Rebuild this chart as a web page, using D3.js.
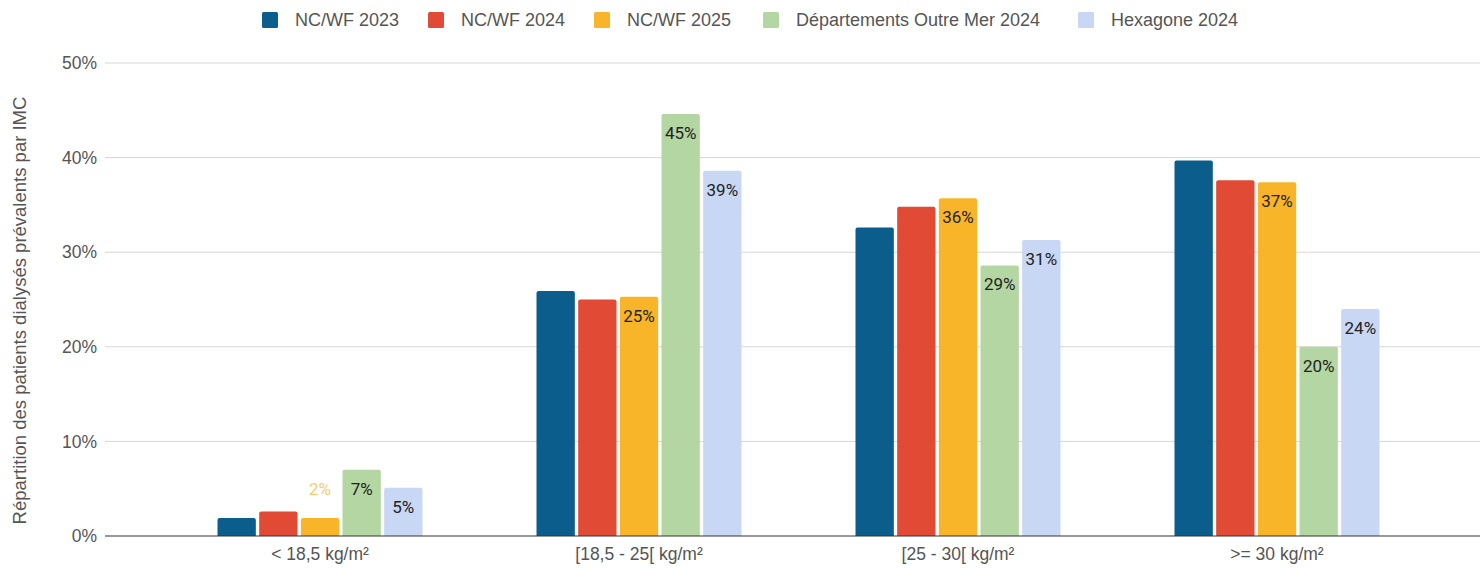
<!DOCTYPE html>
<html>
<head>
<meta charset="utf-8">
<script src="https://cdn.jsdelivr.net/npm/d3@7"></script>
<style>
  body { margin: 0; background: #fff; }
  svg { display: block; font-family: "Liberation Sans", Arial, sans-serif; }
</style>
</head>
<body>
<svg id="chart" width="1480" height="568"></svg>
<script>
const categories = ["< 18,5 kg/m²", "[18,5 - 25[ kg/m²", "[25 - 30[ kg/m²", ">= 30 kg/m²"];
const seriesNames = ["NC/WF 2023", "NC/WF 2024", "NC/WF 2025", "Départements Outre Mer 2024", "Hexagone 2024"];
const nc2023 = [1.9, 25.9, 32.6, 39.7];
const nc2024 = [2.6, 25.0, 34.8, 37.6];
const nc2025 = [1.9, 25.3, 35.7, 37.4];
const dom2024 = [7.0, 44.6, 28.6, 20.0];
const hexa2024 = [5.1, 38.6, 31.3, 24.0];
const yTicks = [0, 10, 20, 30, 40, 50];
// which series show a value label
const labelled = [false, false, true, true, true];

const colors = ["#0b5e8c", "#e14b36", "#f9b52a", "#b4d6a3", "#c8d7f4"];
const allSeries = [nc2023, nc2024, nc2025, dom2024, hexa2024];

const svg = d3.select("#chart");
const plotLeft = 105, plotRight = 1480, plotTop = 63, plotBottom = 536;

const x0 = d3.scaleBand().domain(categories).range([160.5, 1436.5]);
const groupW = 205;
const x1 = d3.scaleBand().domain(d3.range(5))
  .range([(x0.bandwidth() - groupW) / 2, (x0.bandwidth() + groupW) / 2])
  .paddingInner(0.08);
const y = d3.scaleLinear().domain([0, 50]).range([plotBottom, plotTop]);

// gridlines
svg.append("g")
  .selectAll("line")
  .data(yTicks.filter(d => d > 0))
  .enter().append("line")
  .attr("x1", plotLeft).attr("x2", plotRight)
  .attr("y1", d => y(d)).attr("y2", d => y(d))
  .attr("stroke", "#d6d6d6").attr("stroke-width", 1);

// y axis labels
const yAxis = svg.append("g")
  .attr("transform", "translate(" + plotLeft + ",0)")
  .call(d3.axisLeft(y).tickValues(yTicks).tickFormat(d => d + "%").tickSize(0).tickPadding(8));
yAxis.select(".domain").remove();
yAxis.selectAll("text").attr("font-size", 17.5).attr("fill", "#555").attr("font-family", "'Liberation Sans', Arial, sans-serif");

// bars
const groups = svg.append("g").selectAll("g")
  .data(categories)
  .enter().append("g")
  .attr("transform", d => "translate(" + x0(d) + ",0)");

groups.selectAll("path")
  .data((c, i) => allSeries.map((s, k) => ({ k: k, v: s[i] })))
  .enter().append("path")
  .attr("fill", d => colors[d.k])
  .attr("d", d => {
    const bx = x1(d.k), bw = x1.bandwidth(), by = y(d.v), r = 2;
    return "M" + bx + "," + plotBottom + "V" + (by + r) + "Q" + bx + "," + by + " " + (bx + r) + "," + by +
      "H" + (bx + bw - r) + "Q" + (bx + bw) + "," + by + " " + (bx + bw) + "," + (by + r) + "V" + plotBottom + "Z";
  });

// value labels
groups.selectAll("text.val")
  .data((c, i) => allSeries.map((s, k) => ({ k: k, v: s[i] })).filter(d => labelled[d.k]))
  .enter().append("text")
  .attr("class", "val")
  .attr("x", d => x1(d.k) + x1.bandwidth() / 2)
  .attr("y", d => (y(d.v) > plotBottom - 30 ? y(d.v) - 23 : y(d.v) + 25))
  .attr("text-anchor", "middle")
  .attr("font-family", "Roboto, sans-serif")
  .attr("font-size", 17)
  .attr("fill", d => (y(d.v) > plotBottom - 30 ? "#f8cc6e" : "#222"))
  .text(d => Math.round(d.v) + "%");

// baseline
svg.append("line")
  .attr("x1", plotLeft).attr("x2", plotRight)
  .attr("y1", plotBottom).attr("y2", plotBottom)
  .attr("stroke", "#333").attr("stroke-width", 1.2);

// x axis labels
const xAxis = svg.append("g")
  .attr("transform", "translate(0," + plotBottom + ")")
  .call(d3.axisBottom(x0).tickSize(0).tickPadding(12));
xAxis.select(".domain").remove();
xAxis.selectAll("text").attr("font-size", 17.5).attr("fill", "#555").attr("font-family", "'Liberation Sans', Arial, sans-serif");

// y title
svg.append("text")
  .attr("transform", "translate(26," + ((plotTop + plotBottom) / 2 + 11) + ") rotate(-90)")
  .attr("text-anchor", "middle")
  .attr("font-size", 18.5)
  .attr("fill", "#555")
  .text("Répartition des patients dialysés prévalents par IMC");

// legend
const legendX = [262, 428, 594, 763, 1078];
const legend = svg.append("g").selectAll("g")
  .data(seriesNames)
  .enter().append("g")
  .attr("transform", (d, i) => "translate(" + legendX[i] + ",12)");
legend.append("rect")
  .attr("width", 16).attr("height", 16).attr("rx", 1.5)
  .attr("fill", (d, i) => colors[i]);
legend.append("text")
  .attr("x", 33).attr("y", 14)
  .attr("font-size", 18)
  .attr("fill", "#555")
  .text(d => d);
</script>
</body>
</html>
